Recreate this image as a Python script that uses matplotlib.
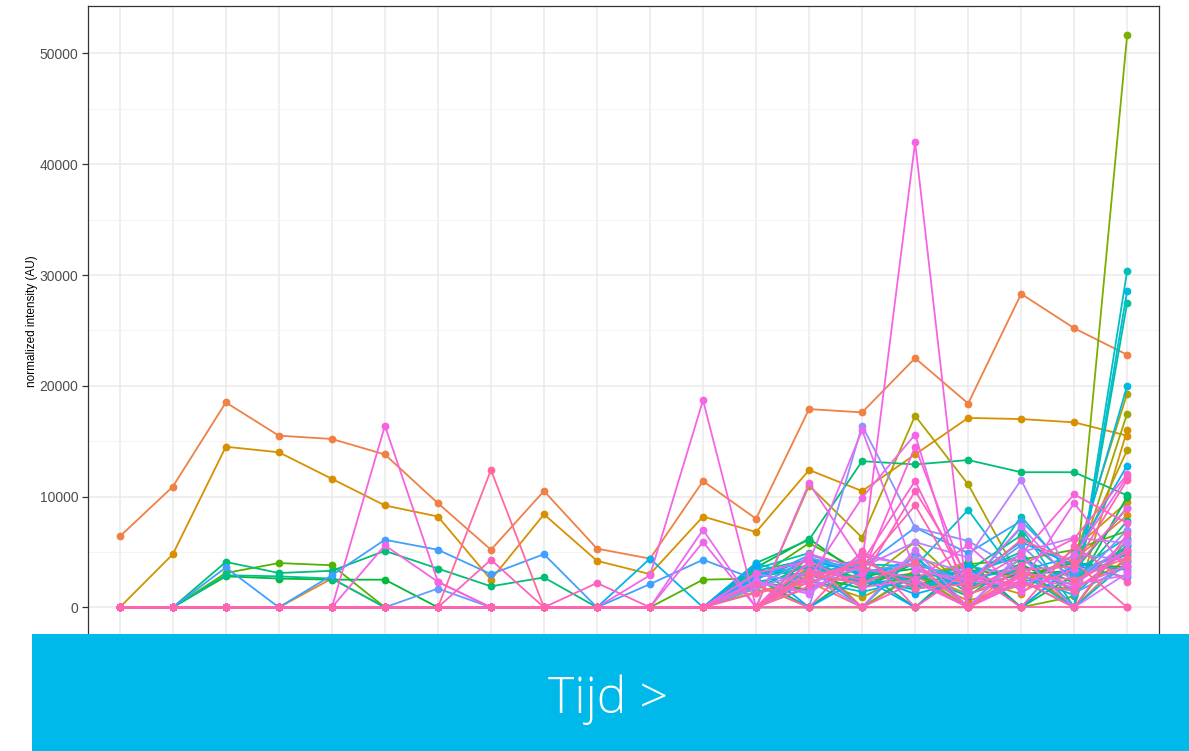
import math
import numpy as np
import matplotlib
matplotlib.use("Agg")
import matplotlib.pyplot as plt
from matplotlib.patches import Rectangle

# ---------------- data ----------------
time_points = list(range(1, 21))
y_ticks = [0, 10000, 20000, 30000, 40000, 50000]
y_label = "normalized intensity (AU)"
banner_text = "Tijd >"

s_c18 = [0, 0, 0, 0, 0, 0, 0, 0, 0, 0, 0, 0, 0, 2300, 0, 2900, 0, 3800, 0, 4600]
s_a = [6400, 10900, 18500, 15500, 15200, 13800, 9400, 5200, 10500, 5300, 4400, 11400, 8000, 17900, 17600, 22500, 18400, 28300, 25200, 22800]
s_m = [0, 0, 0, 0, 2600, 0, 0, 0, 0, 0, 0, 0, 0, 3700, 2400, 3100, 1200, 2700, 4300, 8300]
s_c1 = [0, 0, 0, 0, 0, 0, 0, 0, 0, 0, 0, 0, 0, 1800, 2400, 2900, 600, 2000, 1700, 4200]
s_b = [0, 4800, 14500, 14000, 11600, 9200, 8200, 2500, 8400, 4200, 3000, 8200, 6800, 12400, 10500, 13800, 17100, 17000, 16700, 15500]
s_q = [0, 0, 0, 0, 0, 0, 0, 0, 0, 0, 0, 0, 0, 0, 0, 4900, 1800, 3500, 0, 16000]
s_c2 = [0, 0, 0, 0, 0, 0, 0, 0, 0, 0, 0, 0, 1400, 2500, 900, 3300, 2600, 1200, 5300, 9500]
s_s = [0, 0, 0, 0, 0, 0, 0, 0, 0, 0, 0, 0, 2000, 0, 3400, 2600, 4100, 0, 3800, 14200]
s_p = [0, 0, 0, 0, 0, 0, 0, 0, 0, 0, 0, 0, 0, 11000, 6300, 17300, 11100, 2400, 4200, 19300]
s_r = [0, 0, 0, 0, 0, 0, 0, 0, 0, 0, 0, 0, 0, 3000, 2200, 5900, 1500, 3600, 2800, 17500]
s_c11 = [0, 0, 0, 0, 0, 0, 0, 0, 0, 0, 0, 0, 0, 4600, 0, 3100, 0, 2400, 0, 6100]
s_lime = [0, 0, 0, 0, 0, 0, 0, 0, 0, 0, 0, 0, 0, 0, 0, 0, 0, 0, 1000, 51700]
s_e = [0, 0, 3100, 4000, 3800, 0, 0, 0, 0, 0, 0, 2500, 2600, 5800, 3200, 2500, 3900, 4300, 5200, 6900]
s_c3 = [0, 0, 0, 0, 0, 0, 0, 0, 0, 0, 0, 0, 2300, 1600, 3700, 1900, 3400, 2800, 4000, 3600]
s_f = [0, 0, 2800, 2600, 2500, 2500, 0, 0, 0, 0, 0, 0, 3600, 6200, 2800, 3500, 1800, 3000, 3300, 9000]
s_t = [0, 0, 0, 0, 0, 0, 0, 0, 0, 0, 0, 0, 3300, 2900, 1700, 4000, 2300, 3900, 1500, 10000]
s_c12 = [0, 0, 0, 0, 0, 0, 0, 0, 0, 0, 0, 0, 2600, 0, 3300, 0, 4200, 0, 2900, 5300]
s_c = [0, 0, 4100, 3100, 3300, 5100, 3500, 1900, 2700, 0, 0, 0, 4000, 6100, 13200, 12900, 13300, 12200, 12200, 10100]
s_c4 = [0, 0, 0, 0, 0, 0, 0, 0, 0, 0, 0, 0, 1700, 3900, 2600, 3000, 1000, 4400, 2200, 7800]
s_g = [0, 0, 2900, 2800, 2600, 0, 0, 0, 0, 0, 0, 0, 3300, 4300, 2100, 2700, 3300, 6500, 2500, 5500]
s_u = [0, 0, 0, 0, 0, 0, 0, 0, 0, 0, 0, 0, 2700, 3600, 2500, 1600, 2900, 5000, 0, 27500]
s_x = [0, 0, 0, 0, 0, 0, 0, 0, 0, 0, 0, 0, 3500, 4900, 2800, 4400, 1300, 8200, 2600, 4800]
s_v = [0, 0, 0, 0, 0, 0, 0, 0, 0, 0, 0, 0, 1900, 4400, 3400, 2200, 2000, 7200, 0, 30400]
s_w = [0, 0, 0, 0, 0, 0, 0, 0, 0, 0, 0, 0, 2300, 3100, 3900, 3700, 8800, 2300, 3200, 6300]
s_c5 = [0, 0, 0, 0, 0, 0, 0, 0, 0, 0, 0, 0, 4000, 2400, 1400, 2500, 3700, 2900, 1100, 5600]
s_c13 = [0, 0, 0, 0, 0, 0, 0, 0, 0, 0, 0, 0, 0, 3500, 0, 4700, 0, 3100, 0, 4100]
s_y = [0, 0, 0, 0, 0, 0, 0, 0, 0, 0, 0, 0, 2900, 3800, 2300, 1800, 3000, 4700, 0, 28600]
s_z = [0, 0, 0, 0, 0, 0, 0, 0, 0, 0, 0, 0, 0, 3300, 4300, 2100, 2200, 1900, 3600, 20000]
s_l = [0, 0, 0, 0, 0, 0, 0, 0, 0, 0, 4400, 0, 3000, 4200, 3100, 3800, 2700, 3300, 4600, 12800]
s_c6 = [0, 0, 0, 0, 0, 0, 0, 0, 0, 0, 0, 0, 2600, 4400, 3000, 1200, 2500, 5900, 3800, 2700]
s_c14 = [0, 0, 0, 0, 0, 0, 0, 0, 0, 0, 0, 0, 3800, 0, 2700, 0, 3600, 0, 3900, 3400]
s_d = [0, 0, 3600, 0, 2900, 6100, 5200, 3000, 4800, 0, 2100, 4300, 2500, 4700, 3600, 7200, 4900, 7800, 3000, 5000]
s_n = [0, 0, 0, 0, 0, 0, 1700, 0, 0, 0, 0, 0, 1800, 4500, 3200, 4000, 2300, 5600, 1300, 3700]
s_vi = [0, 0, 0, 0, 0, 0, 0, 0, 0, 0, 0, 0, 0, 0, 16400, 7200, 6000, 3200, 2000, 7000]
s_c7 = [0, 0, 0, 0, 0, 0, 0, 0, 0, 0, 0, 0, 1800, 3200, 2000, 4500, 3100, 1700, 4800, 4300]
s_aa = [0, 0, 0, 0, 0, 0, 0, 0, 0, 0, 0, 0, 3000, 2200, 3600, 5900, 4500, 11500, 2000, 6000]
s_ab = [0, 0, 0, 0, 0, 0, 0, 0, 0, 0, 0, 0, 2200, 1400, 4600, 3800, 0, 5000, 6300, 5800]
s_c15 = [0, 0, 0, 0, 0, 0, 0, 0, 0, 0, 0, 0, 0, 2800, 0, 5200, 0, 4600, 0, 3100]
s_c8 = [0, 0, 0, 0, 0, 0, 0, 0, 0, 0, 0, 0, 2400, 1200, 4900, 3600, 2000, 7300, 2100, 2900]
s_o1 = [0, 0, 0, 0, 0, 0, 0, 0, 0, 0, 0, 7000, 0, 4100, 16000, 3300, 2500, 1800, 4700, 11800]
s_o2 = [0, 0, 0, 0, 0, 0, 0, 0, 0, 0, 0, 5900, 0, 2600, 9900, 15600, 0, 2200, 9400, 3300]
s_j = [0, 0, 0, 0, 0, 5600, 2300, 0, 0, 0, 2900, 18700, 0, 11200, 4000, 42000, 0, 3200, 2100, 5200]
s_c9 = [0, 0, 0, 0, 0, 0, 0, 0, 0, 0, 0, 0, 3100, 4200, 1800, 2500, 5600, 1400, 3500, 9000]
s_h = [0, 0, 0, 0, 0, 16400, 2300, 0, 0, 0, 0, 0, 0, 4800, 3500, 2600, 0, 2800, 1800, 3800]
s_ac = [0, 0, 0, 0, 0, 0, 0, 0, 0, 0, 0, 0, 0, 1900, 3000, 14500, 2000, 4800, 10200, 7600]
s_ad = [0, 0, 0, 0, 0, 0, 0, 0, 0, 0, 0, 0, 0, 2700, 4100, 11400, 1600, 3800, 6200, 12000]
s_c16 = [0, 0, 0, 0, 0, 0, 0, 0, 0, 0, 0, 0, 0, 4000, 0, 2300, 0, 2500, 0, 6600]
s_k = [0, 0, 0, 0, 0, 0, 0, 4300, 0, 2200, 0, 0, 0, 3300, 2500, 10500, 2800, 2100, 1500, 5100]
s_c17 = [0, 0, 0, 0, 0, 0, 0, 0, 0, 0, 0, 0, 2100, 0, 5100, 0, 3300, 0, 5500, 2300]
s_ae = [0, 0, 0, 0, 0, 0, 0, 0, 0, 0, 0, 0, 0, 2900, 3600, 9200, 1100, 3400, 3700, 11500]
s_c10 = [0, 0, 0, 0, 0, 0, 0, 0, 0, 0, 0, 0, 1300, 2200, 4300, 1700, 2100, 6100, 4100, 0]
s_i = [0, 0, 0, 0, 0, 0, 0, 12400, 0, 0, 0, 0, 0, 2900, 2200, 4100, 0, 3000, 2500, 4500]
s_zero = [0, 0, 0, 0, 0, 0, 0, 0, 0, 0, 0, 0, 0, 0, 0, 0, 0, 0, 0, 0]

# series drawn in palette order (hue angle of ggplot-style colour)
series_list = [
    (20, s_c18), (28, s_a), (35, s_m), (40, s_c1), (52, s_b), (58, s_q), (65, s_c2),
    (75, s_s), (80, s_p), (90, s_r), (100, s_c11), (105, s_lime), (118, s_e),
    (125, s_c3), (135, s_f), (142, s_t), (148, s_c12), (155, s_c), (160, s_c4),
    (167, s_g), (174, s_u), (183, s_x), (190, s_v), (196, s_w), (202, s_c5),
    (206, s_c13), (210, s_y), (216, s_z), (222, s_l), (235, s_c6), (240, s_c14),
    (250, s_d), (256, s_n), (265, s_vi), (272, s_c7), (280, s_aa), (286, s_ab),
    (290, s_c15), (295, s_c8), (305, s_o1), (310, s_o2), (314, s_j), (316, s_c9),
    (318, s_h), (322, s_ac), (328, s_ad), (332, s_c16), (338, s_k), (340, s_c17),
    (343, s_ae), (350, s_c10), (355, s_i), (345, s_zero),
]


def hue_color(h, c=100.0, l=65.0):
    hr = math.radians(h)
    u, v = c * math.cos(hr), c * math.sin(hr)
    Xn, Yn, Zn = 0.95047, 1.0, 1.08883
    den = Xn + 15 * Yn + 3 * Zn
    un, vn = 4 * Xn / den, 9 * Yn / den
    Y = ((l + 16) / 116) ** 3
    up = u / (13 * l) + un
    vp = v / (13 * l) + vn
    X = Y * 9 * up / (4 * vp)
    Z = Y * (12 - 3 * up - 20 * vp) / (4 * vp)
    r = 3.2404542 * X - 1.5371385 * Y - 0.4985314 * Z
    g = -0.9692660 * X + 1.8760108 * Y + 0.0415560 * Z
    b = 0.0556434 * X - 0.2040259 * Y + 1.0572252 * Z
    out = []
    for ch in (r, g, b):
        ch = 12.92 * ch if ch <= 0.0031308 else 1.055 * ch ** (1 / 2.4) - 0.055
        out.append(min(1.0, max(0.0, ch)))
    return tuple(out)


W, H = 1189, 751
fig = plt.figure(figsize=(W / 100, H / 100), dpi=100)
fig.patch.set_facecolor("white")
ax = fig.add_axes([88 / W, 1 - 636 / H, (1159 - 88) / W, (636 - 6) / H])

for hue, vals in series_list:
    col = hue_color(hue)
    ax.plot(time_points, vals, color=col, lw=1.3, marker="o", ms=5.6,
            markeredgewidth=0, solid_joinstyle="round")

ax.set_xlim(0.4, 20.6)
ymax = 51700
ax.set_ylim(-0.05 * ymax, ymax * 1.05)
ax.set_xticks(time_points)
ax.set_xticklabels([])
ax.tick_params(axis="x", length=0)
ax.set_yticks(y_ticks)
ax.set_yticklabels([str(t) for t in y_ticks], fontsize=10, color="#4D4D4D",
                   family=["Liberation Sans", "DejaVu Sans"])
ax.set_yticks([5000, 15000, 25000, 35000, 45000], minor=True)
ax.tick_params(axis="y", which="major", length=4, width=0.9, color="#333333", pad=3)
ax.tick_params(axis="y", which="minor", length=0)
ax.grid(which="major", color="#EBEBEB", lw=1.1)
ax.grid(which="minor", axis="y", color="#F2F2F2", lw=0.6)
ax.set_axisbelow(True)
for sp in ax.spines.values():
    sp.set_color("#333333")
    sp.set_linewidth(0.9)
ax.set_ylabel(y_label, fontsize=8.5, family=["Liberation Sans", "DejaVu Sans"],
              color="black", labelpad=1)

banner = Rectangle((32 / W, 0), 1 - 32 / W, 117 / H, transform=fig.transFigure,
                   facecolor="#00B9EB", edgecolor="none", zorder=10)
fig.add_artist(banner)
fig.text(608.5 / W, (H - 713) / H, banner_text, color="white", fontsize=36,
         family=["Open Sans", "DejaVu Sans"], fontweight="light",
         ha="center", va="baseline", zorder=11)

fig.savefig("out.png", dpi=100, facecolor="white")
